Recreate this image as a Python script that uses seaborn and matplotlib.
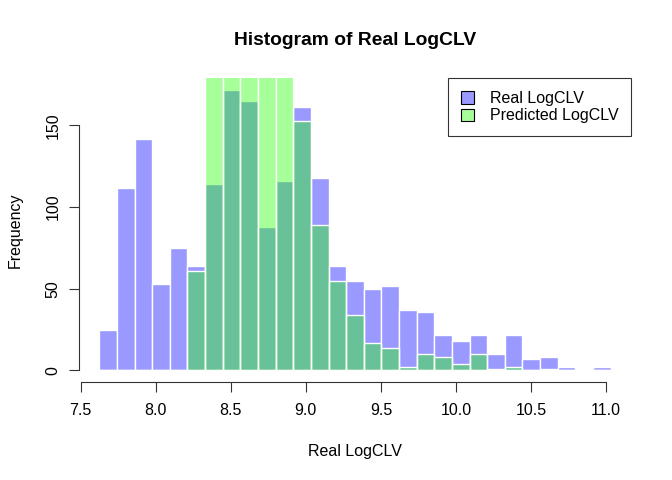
import numpy as np
import pandas as pd
import matplotlib
matplotlib.use("Agg")
import matplotlib.pyplot as plt
import seaborn as sns
from matplotlib.patches import Patch

# -----------------------------
# Data
# -----------------------------
x_min = 7.624
x_max = 11.03
n_bins = 29

# counts per bin, real LogCLV
real_counts = [25, 112, 142, 53, 75, 64, 114, 172, 165, 88, 116, 161, 118, 64,
               55, 50, 52, 37, 36, 22, 18, 22, 10, 22, 7, 8, 2, 0, 2]
# counts per bin, predicted LogCLV (bins 7-11 run off the top of the plot)
pred_counts = [0, 0, 0, 0, 0, 61, 215, 260, 230, 205, 190, 153, 89, 55,
               34, 17, 14, 2, 10, 8, 4, 10, 1, 2, 0, 1, 0, 0, 0]

x_ticks = [7.5, 8.0, 8.5, 9.0, 9.5, 10.0, 10.5, 11.0]
y_ticks = [0, 50, 100, 150]
legend_labels = ["Real LogCLV", "Predicted LogCLV"]

edges = np.linspace(x_min, x_max, n_bins + 1)
centers = (edges[:-1] + edges[1:]) / 2
df = pd.DataFrame({"center": centers, "real": real_counts, "pred": pred_counts})

blue = (0.0, 0.0, 1.0)
green = (0.13, 1.0, 0.0)

sns.set_style("white")
plt.rcParams["font.family"] = ["Liberation Sans", "DejaVu Sans"]
plt.rcParams["text.color"] = "black"
plt.rcParams["xtick.color"] = "black"
plt.rcParams["ytick.color"] = "black"

fig = plt.figure(figsize=(6.72, 4.8), dpi=100)
ax = fig.add_axes([0.1174, 0.2048, 0.8216, 0.6321])

sns.histplot(data=df, x="center", weights="real", bins=n_bins,
             binrange=(x_min, x_max), color=blue, alpha=0.4,
             edgecolor="white", linewidth=1.0, ax=ax)
sns.histplot(data=df, x="center", weights="pred", bins=n_bins,
             binrange=(x_min, x_max), color=green, alpha=0.4,
             edgecolor="white", linewidth=1.0, ax=ax)

# R style axis ranges (4% padding, ylim = max real count)
span = x_max - x_min
ax.set_xlim(x_min - 0.04 * span, x_max + 0.04 * span)
ymax = max(real_counts)
ax.set_ylim(-0.04 * ymax, ymax * 1.04)

for s in ["top", "right"]:
    ax.spines[s].set_visible(False)
ax.spines["bottom"].set_bounds(x_ticks[0], x_ticks[-1])
ax.spines["left"].set_bounds(y_ticks[0], y_ticks[-1])
for s in ["bottom", "left"]:
    ax.spines[s].set_linewidth(0.8)
    ax.spines[s].set_color("#333333")

ax.set_xticks(x_ticks)
ax.set_xticklabels([f"{t:.1f}" for t in x_ticks])
ax.set_yticks(y_ticks)
ax.set_yticklabels([str(t) for t in y_ticks], rotation=90, va="center")
ax.tick_params(axis="both", which="both", direction="out", length=7, width=0.8,
               color="#333333", labelcolor="black", labelsize=11.5,
               bottom=True, left=True)
ax.tick_params(axis="x", pad=8)
ax.tick_params(axis="y", pad=6)

ax.set_xlabel("")
ax.set_ylabel("")
fig.text(0.528, 0.06, "Real LogCLV", ha="center", va="center", fontsize=11.5)
fig.text(0.022, 0.52, "Frequency", ha="center", va="center", rotation=90,
         fontsize=11.5)
fig.text(0.528, 0.915, "Histogram of Real LogCLV", ha="center", va="center",
         fontsize=13.9, fontweight="bold")

handles = [Patch(facecolor=blue + (0.4,), edgecolor="black", linewidth=0.8),
           Patch(facecolor=green + (0.4,), edgecolor="black", linewidth=0.8)]
leg = ax.legend(handles, legend_labels, loc="upper right", borderaxespad=0,
                fontsize=11.5, frameon=True, fancybox=False, handlelength=0.8,
                handleheight=0.8, handletextpad=1.0, labelspacing=0.15,
                borderpad=0.8)
leg.get_frame().set_edgecolor("black")
leg.get_frame().set_linewidth(0.8)

fig.savefig("out.png", dpi=100)
